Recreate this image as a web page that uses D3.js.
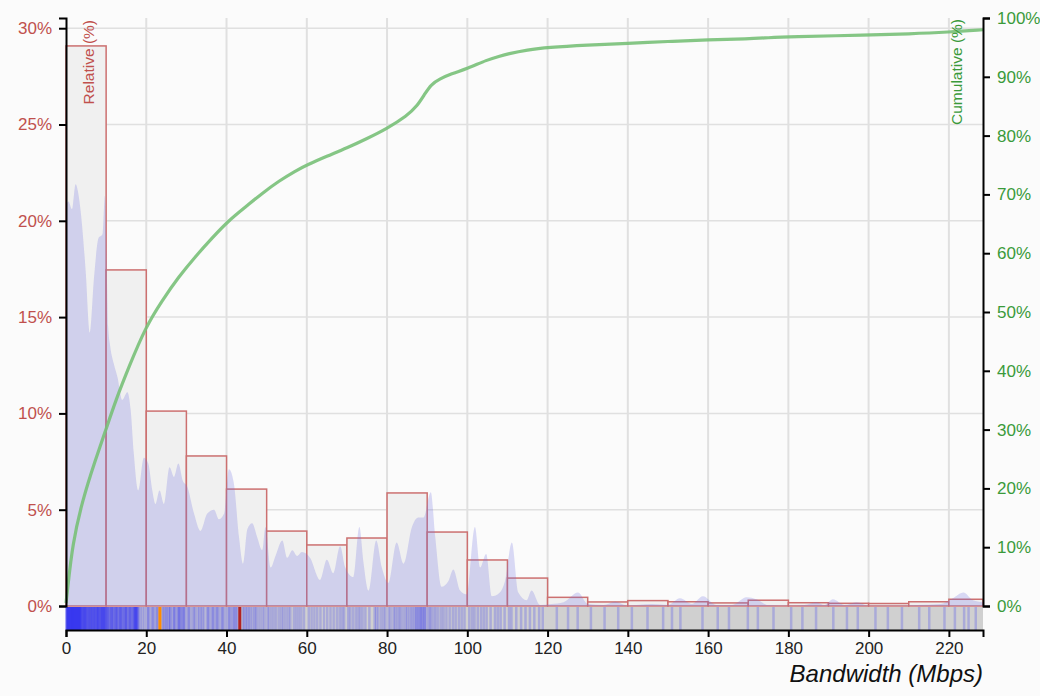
<!DOCTYPE html>
<html><head><meta charset="utf-8">
<script src="https://cdn.jsdelivr.net/npm/d3@7"></script>
<style>
html,body{margin:0;padding:0;background:#fbfbfb;}
svg{display:block;font-family:"Liberation Sans",Arial,sans-serif;}
</style></head>
<body><svg id="c" width="1040" height="696"></svg>
<script>
// ---- data ----
const binStarts = [0,10,20,30,40,50,60,70,80,90,100,110,120,130,140,150,160,170,180,190,200,210,220];
const binEnds   = [10,20,30,40,50,60,70,80,90,100,110,120,130,140,150,160,170,180,190,200,210,220,228.5];
const binPct    = [29.08,17.45,10.12,7.79,6.07,3.89,3.17,3.53,5.87,3.84,2.39,1.45,0.45,0.21,0.28,0.22,0.16,0.30,0.17,0.14,0.13,0.22,0.35];

const densX = [0,0.6,1.5,2.4,3.0,3.7,4.9,5.9,7.0,8.1,9.1,9.7,10.2,10.5,11.0,12.0,12.8,14.0,15.3,16.1,16.9,18.0,19.4,20.5,21.5,22.3,23.3,24.4,25.8,26.9,28.0,29.1,30.2,31.9,33.5,35.2,36.9,38.1,39.4,40.6,41.8,43.1,44.1,45.2,46.4,47.6,48.9,49.7,51.0,52.2,53.9,55.1,56.4,57.6,58.8,60.8,63.3,65.0,66.6,68.3,69.6,71.6,73.1,74.1,75.4,77.3,78.7,80.3,82.4,84.1,86.2,87.8,89.1,90.9,92.0,93.6,95.3,96.5,98.2,99.8,101.9,103.2,104.7,106.1,108.1,109.4,111.1,112.7,114.8,116.0,118.1,121,124,127.6,130,134,136.8,140,146,150,153,156,158.7,162,166,169.6,172,175,180,184,187,189,191.1,194,197,200,206,212,218,221,223.6,226,228.5];
const densPct = [20.8,21.0,20.6,21.9,21.5,20.4,17.4,14.2,17.1,19.1,19.3,21.3,17.0,14.5,13.5,12.5,11.9,10.7,11.1,10.2,7.9,6.0,7.7,7.4,6.0,5.3,6.0,5.3,7.2,6.7,7.4,6.5,6.2,4.8,3.9,4.8,5.0,4.5,4.8,7.1,6.4,3.6,2.2,4.0,4.3,3.6,2.9,4.1,2.0,2.6,3.4,2.5,2.9,2.6,2.8,2.5,1.35,2.4,1.7,3.1,2.0,1.5,4.1,2.3,0.8,3.4,2.0,1.2,3.3,2.2,4.1,4.6,4.6,5.9,3.6,1.0,1.3,1.9,0.8,0.6,4.1,2.0,2.7,0.5,0.7,1.3,3.3,0.7,0.3,0.8,0.05,0.1,0.2,0.7,0.1,0.05,0.22,0.02,0.1,0.05,0.4,0.1,0.5,0.05,0.05,0.45,0.35,0.05,0.02,0.05,0.2,0.05,0.35,0.05,0.2,0.02,0.02,0.05,0.1,0.4,0.7,0.3,0.2];

const cumX   = [0,0.35,1.6,4.1,7.4,9.9,12.4,15.7,19.8,24,28.1,32.2,36.4,40.6,44.8,48.9,53.1,57.2,60,65,70,75,80,85,87.5,89.5,91,93,96,100,105,108,110,115,120,130,140,150,160,170,175,180,200,210,220,228.5];
const cumPct = [0.5,2.5,10.5,18,25,29.9,35,40.7,47.4,52,56,59.4,62.6,65.6,67.9,70.2,72.3,74.0,75.0,76.5,77.9,79.5,81.2,83.4,85.0,87.2,88.7,89.6,90.5,91.4,92.9,93.5,93.9,94.6,95.0,95.4,95.7,96.0,96.3,96.45,96.65,96.8,97.1,97.3,97.6,98.0];

const rugValues = [0.1,0.3,0.4,0.5,0.6,0.8,0.9,1.0,1.1,1.2,1.4,1.5,1.7,1.8,1.9,2.0,2.1,2.2,2.3,2.5,2.6,2.7,2.8,3.0,3.1,3.3,3.4,3.5,3.6,3.8,4.0,4.2,4.4,4.7,4.9,5.2,5.5,5.8,6.1,6.3,6.6,6.8,7.0,7.3,7.5,7.7,7.9,8.1,8.3,8.5,8.7,8.9,9.0,9.2,9.3,9.5,9.6,9.7,9.8,9.9,
0.2,0.7,1.3,1.6,2.4,2.9,3.2,3.7,4.5,5.0,5.7,6.4,7.1,8.0,8.8,9.4,
0.15,0.45,0.75,1.05,1.35,1.65,1.95,2.25,2.55,2.85,3.15,3.45,3.75,4.1,4.3,4.6,4.8,5.1,5.35,5.65,5.95,6.2,6.5,6.9,7.2,7.6,7.8,8.2,8.6,9.1,
10.1,10.3,10.6,10.9,11.2,11.4,11.7,12.0,12.3,12.5,12.8,13.1,13.4,13.6,13.9,14.2,14.5,14.8,15.0,15.3,15.6,15.9,16.2,16.5,16.8,17.0,17.2,17.4,17.5,17.6,17.7,17.8,18.2,18.6,19.1,19.6,
10.5,11.5,12.6,13.7,14.9,16.0,17.1,17.9,
10.2,10.8,11.3,11.9,12.4,13.0,13.5,14.1,14.6,15.2,15.8,16.4,16.9,17.3,
20.2,20.7,21.3,21.9,22.4,23.0,24.0,24.6,25.2,25.6,26.0,26.5,26.9,27.3,27.8,28.0,28.2,28.6,29.0,29.4,29.7,
20.5,21.6,22.7,24.3,25.0,25.9,27.0,28.4,29.2,
30.3,30.9,31.5,32.2,32.8,33.6,34.4,35.1,35.7,36.3,36.9,37.4,38.0,38.6,39.2,39.8,
30.6,31.9,33.2,34.0,35.4,36.6,37.7,39.0,
40.4,41.0,41.5,42.1,42.7,44.0,44.8,45.6,46.5,47.3,48.4,49.5,
40.7,41.8,42.4,44.4,45.2,46.0,47.0,47.8,49.0,
50.6,51.8,53.1,54.2,55.4,56.8,58.0,59.3,
50.2,51.2,52.4,53.7,54.8,55.9,57.4,58.6,
60.5,61.9,63.4,65.1,66.7,68.2,69.3,
61.2,62.6,64.3,65.9,67.5,68.8,
70.8,72.2,73.3,74.6,76.9,77.8,79.1,
70.3,71.5,72.8,73.9,75.6,77.3,78.5,79.6,
80.4,81.6,82.5,83.4,84.6,85.5,86.4,86.9,87.5,88.1,88.6,89.2,89.7,
80.9,82.0,83.0,84.0,85.0,86.0,87.2,87.8,88.4,88.9,89.4,
90.3,91.1,92.2,93.5,94.8,96.4,97.9,99.3,
90.7,91.7,92.8,94.1,95.6,97.1,98.6,
101.2,102.6,104.1,105.8,108.3,
100.5,101.8,103.4,104.8,106.9,107.6,109.3,
111.0,113.4,116.7,
110.4,112.2,114.5,115.6,117.9,118.8,
122.3,127.5,134.2,141.0,148.8,153.1,158.6,165.2,169.9,172.4,180.7,186.9,191.2,197.3,204.8,212.6,218.9,221.5,223.8,226.7,
125.1,130.8,137.6,144.9,151.0,162.4,176.3,183.5,194.6,201.7,208.3,215.1,224.9];

const medianMbps = 23.4;
const meanMbps = 43.3;

const xTicks = [0,20,40,60,80,100,120,140,160,180,200,220];
const leftTicks = [0,5,10,15,20,25,30];
const rightTicks = [0,10,20,30,40,50,60,70,80,90,100];
const xTitle = "Bandwidth (Mbps)";
const leftTitle = "Relative (%)";
const rightTitle = "Cumulative (%)";

// ---- layout ----
const svg = d3.select("#c");
const L = 66, R = 983, T = 18, B = 606, rugB = 630;
const x = d3.scaleLinear().domain([0, 228.5]).range([L, R]);
const yL = d3.scaleLinear().domain([0, 30.53]).range([B, T]);
const yR = d3.scaleLinear().domain([0, 100]).range([B, T]);

const leftCol = "#c0504d", rightCol = "#3a9a3a";

// grid
const g = svg.append("g");
g.selectAll("line.v").data(xTicks.filter(d => d > 0)).enter().append("line")
  .attr("x1", d => x(d)).attr("x2", d => x(d)).attr("y1", T).attr("y2", B)
  .attr("stroke", "#e0e0e0").attr("stroke-width", 2);
g.selectAll("line.h").data(leftTicks.filter(d => d > 0)).enter().append("line")
  .attr("x1", L).attr("x2", R).attr("y1", d => yL(d)).attr("y2", d => yL(d))
  .attr("stroke", "#e0e0e0").attr("stroke-width", 1.5);

// bars
svg.append("g").selectAll("rect").data(binPct).enter().append("rect")
  .attr("x", (d, i) => x(binStarts[i]))
  .attr("width", (d, i) => x(binEnds[i]) - x(binStarts[i]))
  .attr("y", d => yL(d)).attr("height", d => B - yL(d))
  .attr("fill", "#f0f0f0").attr("stroke", "#cc7070").attr("stroke-width", 1.5);

// density
const dens = densX.map((d, i) => [d, densPct[i]]);
svg.append("path").datum(dens)
  .attr("d", d3.area().x(d => x(d[0])).y0(B).y1(d => yL(d[1])).curve(d3.curveMonotoneX))
  .attr("fill", "rgb(110,110,225)").attr("fill-opacity", 0.25);

// cumulative
const cum = cumX.map((d, i) => [d, cumPct[i]]);
svg.append("path").datum(cum)
  .attr("d", d3.line().x(d => x(d[0])).y(d => yR(d[1])).curve(d3.curveBasis))
  .attr("fill", "none").attr("stroke", "#78c078").attr("stroke-width", 3.2).attr("stroke-opacity", 0.9);

// rug
svg.append("rect").attr("x", L).attr("y", B + 1).attr("width", R - L).attr("height", rugB - B - 1).attr("fill", "#d0d0d0");
svg.append("g").selectAll("line").data(rugValues).enter().append("line")
  .attr("x1", d => x(d)).attr("x2", d => x(d)).attr("y1", B + 1).attr("y2", rugB)
  .attr("stroke", "rgb(35,35,245)").attr("stroke-width", 2.5).attr("stroke-opacity", 0.22);
svg.append("line").attr("x1", x(medianMbps)).attr("x2", x(medianMbps)).attr("y1", B + 1).attr("y2", rugB)
  .attr("stroke", "#ff8c00").attr("stroke-width", 3);
svg.append("line").attr("x1", x(meanMbps)).attr("x2", x(meanMbps)).attr("y1", B + 1).attr("y2", rugB)
  .attr("stroke", "#b22222").attr("stroke-width", 3);

// axes
function styleAxis(sel, col) {
  sel.selectAll("path.domain").attr("stroke", "#000").attr("stroke-width", 2);
  sel.selectAll(".tick line").attr("stroke", "#000").attr("stroke-width", 2);
  sel.selectAll("text").attr("fill", col).attr("font-size", 17).attr("font-family", "Liberation Sans, Arial, sans-serif");
}
const ax = svg.append("g").attr("transform", `translate(0,${rugB})`)
  .call(d3.axisBottom(x).tickValues(xTicks).tickFormat(d3.format("d")).tickSize(7).tickSizeOuter(7).tickPadding(5));
styleAxis(ax, "#222");
const al = svg.append("g").attr("transform", `translate(${L},0)`)
  .call(d3.axisLeft(yL).tickValues(leftTicks).tickFormat(d => d + "%").tickSize(7).tickSizeOuter(7).tickPadding(7));
styleAxis(al, leftCol);
const ar = svg.append("g").attr("transform", `translate(${R},0)`)
  .call(d3.axisRight(yR).tickValues(rightTicks).tickFormat(d => d + "%").tickSize(7).tickSizeOuter(7).tickPadding(7));
styleAxis(ar, rightCol);

// titles
svg.append("text").attr("x", R).attr("y", 682).attr("text-anchor", "end")
  .attr("font-size", 24).attr("font-style", "italic").attr("fill", "#111").text(xTitle);
svg.append("text").attr("transform", `translate(94,20) rotate(-90)`).attr("text-anchor", "end")
  .attr("font-size", 15.5).attr("fill", leftCol).text(leftTitle);
svg.append("text").attr("transform", `translate(962,19) rotate(-90)`).attr("text-anchor", "end")
  .attr("font-size", 15.5).attr("fill", rightCol).text(rightTitle);
</script>
</body></html>
